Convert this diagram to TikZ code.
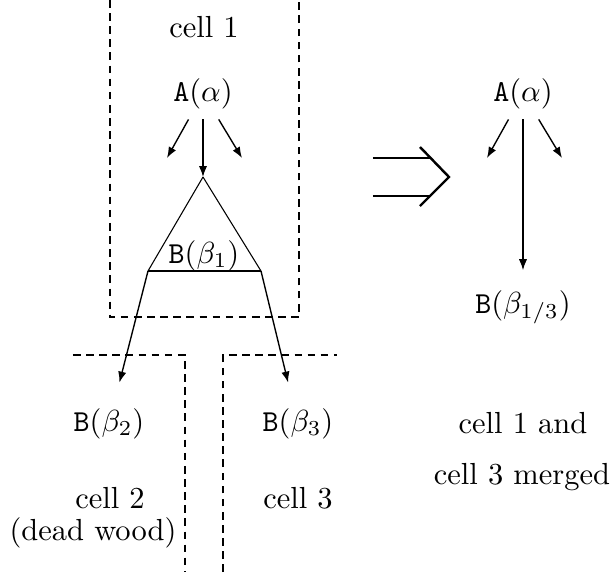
\documentclass[tikz,border=0pt]{standalone}
\usepackage{tikz}
\usetikzlibrary{arrows.meta}
\tikzset{
  txt/.style={anchor=base},
  cellline/.style={line width=0.6pt, dash pattern=on 2.5pt off 1.8pt},
  arr/.style={-{Latex[length=3.6pt,width=2.7pt]}, line width=0.45pt},
  tri/.style={line width=0.35pt},
  implies/.style={line width=0.8pt}
}
\begin{document}
\begin{tikzpicture}[x=0.3279pt, y=-0.3279pt]
  \useasboundingbox (0,0) rectangle (614,572);
  % cell boundaries
  \draw[cellline] (110,0) -- (110,317) -- (299,317) -- (299,0);
  \draw[cellline] (73,355) -- (185,355) -- (185,572);
  \draw[cellline] (223,572) -- (223,355) -- (337,355);

  % before the merge
  \node[txt] (c1) at (204,37) {cell 1};
  \node[txt] (a1) at (203,101) {\texttt{A}$(\alpha)$};
  \coordinate (al) at (167,158);
  \coordinate (ar) at (242,158);
  \coordinate (apex) at (203,177);
  \coordinate (bl) at (148,271);
  \coordinate (br) at (261,271);
  \node[txt] (b1) at (204,263) {\texttt{B}$(\beta_1)$};
  \node[txt] (b2) at (109,431) {\texttt{B}$(\beta_2)$};
  \node[txt] (b3) at (298,431) {\texttt{B}$(\beta_3)$};
  \node[txt] (c2) at (110,508) {cell 2};
  \node[txt] (dw) at (93,540) {(dead wood)};
  \node[txt] (c3) at (298,508) {cell 3};

  \draw[arr] (a1) -- (al);
  \draw[arr] (a1) -- (ar);
  \draw[arr] (a1) -- (apex);
  \draw[tri] (apex) -- (bl);
  \draw[tri] (apex) -- (br);
  \draw[line width=0.6pt] (bl) -- (br);
  \draw[arr, shorten >=5pt] (bl) -- (b2);
  \draw[arr, shorten >=5pt] (br) -- (b3);

  % implies
  \draw[implies] (373,158) -- (431,158);
  \draw[implies] (373,196) -- (431,196);
  \draw[implies] (420,147) -- (449,177) -- (420,206);

  % after the merge
  \node[txt] (a2) at (523,101) {\texttt{A}$(\alpha)$};
  \coordinate (al2) at (487,158);
  \coordinate (ar2) at (562,158);
  \node[txt] (b13) at (523,313) {\texttt{B}$(\beta_{1/3})$};
  \node[txt] (m1) at (523,433) {cell 1 and};
  \node[txt] (m2) at (522,484) {cell 3 merged};

  \draw[arr] (a2) -- (al2);
  \draw[arr] (a2) -- (ar2);
  \draw[arr, shorten >=3pt] (a2) -- (b13);
\end{tikzpicture}
\end{document}
